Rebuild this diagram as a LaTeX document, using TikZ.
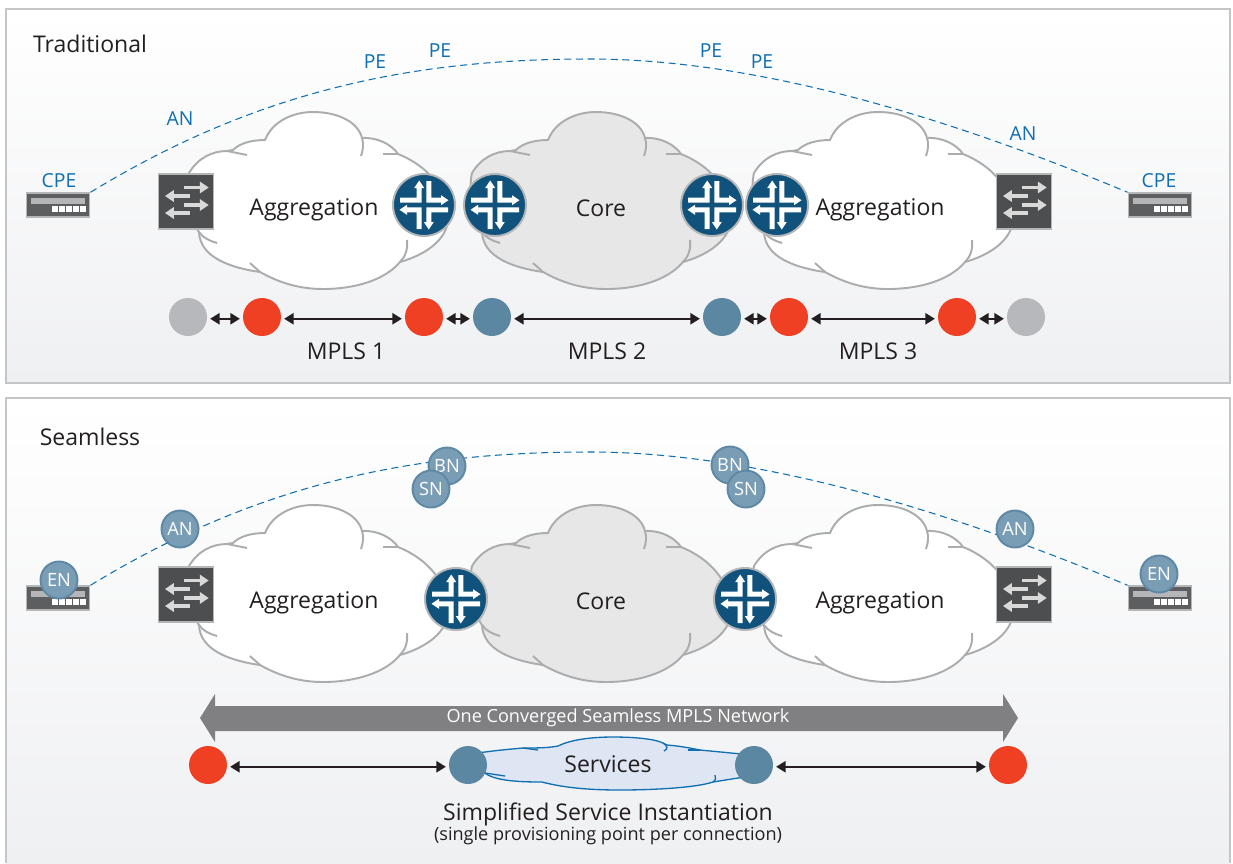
\documentclass[tikz,border=0pt]{standalone}
\usepackage{xcolor}
\usepackage{fontspec}
\setmainfont{Open Sans}
\usetikzlibrary{arrows.meta}
\definecolor{paneledge}{HTML}{C4C5C7}
\definecolor{panelbot}{HTML}{EFF0F2}
\definecolor{cloudedge}{HTML}{ABACAE}
\definecolor{coregray}{HTML}{E7E7E8}
\definecolor{routerblue}{HTML}{10527C}
\definecolor{labelblue}{HTML}{0F6FB0}
\definecolor{boxedge}{HTML}{B5B6B8}
\definecolor{switchgray}{HTML}{4D4E50}
\definecolor{cpegray}{HTML}{5D5E60}
\definecolor{dotgray}{HTML}{B7B8BB}
\definecolor{dotred}{HTML}{F04023}
\definecolor{dotblue}{HTML}{5B87A2}
\definecolor{tagfill}{HTML}{7A9DB6}
\definecolor{tagedge}{HTML}{5F88A4}
\definecolor{bandgray}{HTML}{808082}
\definecolor{servfill}{HTML}{DDE6F2}
\definecolor{inkdark}{HTML}{231F20}
\tikzset{
  bigtext/.style={text=inkdark,inner sep=0pt,font=\fontsize{13.1}{15}\selectfont},
  smalltext/.style={text=inkdark,inner sep=0pt,font=\fontsize{10.3}{12}\selectfont},
  bluetext/.style={text=labelblue,inner sep=0pt,font=\fontsize{11}{13}\selectfont},
  dot/.style={circle,inner sep=0pt,minimum size=0.76cm},
  tag/.style={circle,draw=tagedge,fill=tagfill,line width=1.1pt,inner sep=0pt,minimum size=0.74cm,text=white,font=\fontsize{10.4}{12}\selectfont},
  cpebox/.style={draw=boxedge,fill=cpegray,line width=1.1pt,inner sep=0pt,minimum width=1.26cm,minimum height=0.47cm},
  swbox/.style={draw=boxedge,fill=switchgray,line width=1.1pt,inner sep=0pt,minimum size=1.1cm},
  dashlink/.style={draw=labelblue,line width=0.6pt,dash pattern=on 4pt off 2.6pt},
  link/.style={{Stealth[length=5.4pt,width=6.4pt,inset=0pt]}-{Stealth[length=5.4pt,width=6.4pt,inset=0pt]},draw=inkdark,line width=1pt,shorten >=1.6pt,shorten <=1.6pt},
  cloudmark/.pic={
    \path[pic actions,draw=cloudedge,line width=1.1pt] (189,173) .. controls (198,158) and (212,151) .. (227,151)
      -- (233,150) .. controls (240,143) and (252,140) .. (265,140)
      .. controls (272,122) and (292,112) .. (313,112) .. controls (338,112) and (358,122) .. (362,138)
      .. controls (378,137) and (392,145) .. (398,154)
      .. controls (428,166) and (448,190) .. (448,218) .. controls (448,238) and (428,254) .. (400,262)
      .. controls (385,280) and (355,289) .. (323,289) .. controls (298,289) and (278,282) .. (260,272)
      .. controls (232,268) and (200,258) .. (199,232)
      .. controls (190,220) and (185,190) .. (189,173) -- cycle;
    \draw[cloudedge,line width=1.1pt] (227,151) -- (247,155);
    \draw[cloudedge,line width=1.1pt] (362,138) .. controls (364,144) and (363,150) .. (361,156);
    \draw[cloudedge,line width=1.1pt] (383,154) -- (398,154);
    \draw[cloudedge,line width=1.1pt] (407,240) .. controls (408,250) and (405,257) .. (400,262);
    \draw[cloudedge,line width=1.1pt] (250,263) -- (260,272);
    \draw[cloudedge,line width=1.1pt] (199,232) .. controls (203,238) and (210,241) .. (217,243);
  },
  routermark/.pic={
    \fill[routerblue] (0,0) circle (31);
    \draw[boxedge,line width=1.1pt] (0,0) circle (31);
    \foreach \a in {0,90,180,270}
      \fill[white,rotate=\a] (-24,-7.3) -- (-7.3,-7.3) -- (-7.3,-17) -- (-9.8,-17) -- (-4.8,-24.5) -- (0.2,-17) -- (-2.3,-17) -- (-2.3,-2.3) -- (-24,-2.3) -- cycle;
  },
  cpemark/.pic={
    \fill[boxedge] (-27,-7) rectangle (27,-1);
    \foreach \i in {0,...,4}
      \fill[white] (-6+7*\i,0.5) rectangle (0+7*\i,6.5);
  },
  swmark/.pic={
    \foreach \ya/\xa/\xb in {-14/-2/22.7,-5.5/4/-21,3.5/-2/22.7,11.5/4/-21}
      \draw[white!85!black,line width=2.2pt,-{Triangle[length=5pt,width=6.4pt]}] (\xa,\ya) -- (\xb,\ya);
  }
}
\begin{document}
\begin{tikzpicture}[x=0.02cm,y=-0.02cm]
  \useasboundingbox (0,0) rectangle (1233,863);
  \shade[top color=white,bottom color=panelbot] (6,9) rectangle (1230,383);
  \draw[paneledge,line width=1.1pt] (6,9) rectangle (1230,383);
  \shade[top color=white,bottom color=panelbot] (6,398) rectangle (1230,863);
  \draw[paneledge,line width=1.1pt] (6,863) -- (6,398) -- (1230,398) -- (1230,863);

  \node[bigtext] (trad) at (90,44) {Traditional};
  \node[bigtext] (seam) at (90,437) {Seamless};

  \pic[fill=white] at (0,0) {cloudmark};
  \pic[fill=coregray] at (283,0) {cloudmark};
  \pic[fill=white] at (565,0) {cloudmark};
  \pic[fill=white] at (0,393) {cloudmark};
  \pic[fill=coregray] at (283,393) {cloudmark};
  \pic[fill=white] at (565,393) {cloudmark};

  \node[cpebox] (cpe1) at (58,205) {};
  \node[cpebox] (cpe2) at (1160,205) {};
  \node[cpebox] (cpe3) at (58,598) {};
  \node[cpebox] (cpe4) at (1160,598) {};
  \foreach \n in {cpe1,cpe2,cpe3,cpe4}
    \pic at (\n) {cpemark};
  \node[swbox] (sw1) at (186,201.5) {};
  \node[swbox] (sw2) at (1024,201.5) {};
  \node[swbox] (sw3) at (186,594.5) {};
  \node[swbox] (sw4) at (1024,594.5) {};
  \foreach \n in {sw1,sw2,sw3,sw4}
    \pic at (\n) {swmark};

  \coordinate (apex1) at (590,59);
  \coordinate (apex2) at (590,452);
  \draw[dashlink] (cpe1.north east) .. controls (263,87) and (420,59) .. (apex1) .. controls (760,59) and (955,120) .. (cpe2.north west);
  \draw[dashlink] (cpe3.north east) .. controls (263,480) and (420,452) .. (apex2) .. controls (760,452) and (955,513) .. (cpe4.north west);

  \pic at (424,205) {routermark};
  \pic at (495,205) {routermark};
  \pic at (712,205) {routermark};
  \pic at (777,205) {routermark};
  \pic at (456,599) {routermark};
  \pic at (745,599) {routermark};

  \node[bigtext] (agg1) at (314,210) {Aggregation};
  \node[bigtext] (core1) at (601,208) {Core};
  \node[bigtext] (agg2) at (880,210) {Aggregation};
  \node[bigtext] (agg3) at (314,603) {Aggregation};
  \node[bigtext] (core2) at (601,601) {Core};
  \node[bigtext] (agg4) at (880,603) {Aggregation};

  \node[bluetext] (cpel) at (59,181) {CPE};
  \node[bluetext] (anl) at (180,119) {AN};
  \node[bluetext] (pe1) at (375,62) {PE};
  \node[bluetext] (pe2) at (440,51) {PE};
  \node[bluetext] (pe3) at (711,51) {PE};
  \node[bluetext] (pe4) at (762,62) {PE};
  \node[bluetext] (anr) at (1023,134) {AN};
  \node[bluetext] (cper) at (1159,181) {CPE};

  \node[dot,fill=dotgray] (g1) at (188,317) {};
  \node[dot,fill=dotred] (r1) at (262,317) {};
  \node[dot,fill=dotred] (r2) at (424,317) {};
  \node[dot,fill=dotblue] (b1) at (492,317) {};
  \node[dot,fill=dotblue] (b2) at (722,317) {};
  \node[dot,fill=dotred] (r3) at (789,317) {};
  \node[dot,fill=dotred] (r4) at (957,317) {};
  \node[dot,fill=dotgray] (g2) at (1026,317) {};
  \foreach \a/\b in {g1/r1,r1/r2,r2/b1,b1/b2,b2/r3,r3/r4,r4/g2}
    \draw[link] ([yshift=-1pt]\a.east) -- ([yshift=-1pt]\b.west);
  \node[bigtext] (mpls1) at (346,351) {MPLS 1};
  \node[bigtext] (mpls2) at (607,351) {MPLS 2};
  \node[bigtext] (mpls3) at (878,351) {MPLS 3};

  \node[tag] (en1) at (59,580) {EN};
  \node[tag] (an1) at (180,529) {AN};
  \node[tag] (bn1) at (447,466) {BN};
  \node[tag] (sn1) at (431,489) {SN};
  \node[tag] (bn2) at (730,465) {BN};
  \node[tag] (sn2) at (746,489) {SN};
  \node[tag] (an2) at (1015,529) {AN};
  \node[tag] (en2) at (1159,574) {EN};

  \fill[bandgray] (200,718) -- (215,694) -- (215,706) -- (1003,706) -- (1003,694) -- (1018,718) -- (1003,742) -- (1003,731) -- (215,731) -- (215,742) -- cycle;
  \node[text=white,inner sep=0pt,font=\fontsize{10.3}{12}\selectfont] (band) at (618,718) {One Converged Seamless MPLS Network};

  \draw[labelblue,fill=servfill,line width=0.75pt] (470,754) -- (485,752) .. controls (500,750) and (512,749) .. (523,748)
    .. controls (535,748) and (548,748) .. (558,746) .. controls (570,740) and (590,737) .. (613,737)
    .. controls (635,737) and (655,739) .. (663,743) -- (667,745) .. controls (680,746) and (690,748) .. (700,750)
    -- (752,755) -- (752,776) -- (738,778) -- (713,782) .. controls (695,788) and (650,790) .. (620,790)
    .. controls (590,790) and (565,788) .. (542,782) .. controls (520,782) and (495,781) .. (485,773) -- (470,774) -- cycle;
  \draw[labelblue,line width=0.75pt] (523,748) -- (538,750);
  \draw[labelblue,line width=0.75pt] (663,743) .. controls (668,746) and (668,749) .. (664,751);
  \draw[labelblue,line width=0.75pt] (700,750) -- (688,750);
  \draw[labelblue,line width=0.75pt] (485,773) -- (505,776);
  \draw[labelblue,line width=0.75pt] (713,782) .. controls (716,780) and (716,778) .. (715,775);
  \node[bigtext] (serv) at (608,764) {Services};

  \node[dot,fill=dotred] (r5) at (208,765) {};
  \node[dot,fill=dotblue] (b3) at (468,765) {};
  \node[dot,fill=dotblue] (b4) at (754,765) {};
  \node[dot,fill=dotred] (r6) at (1008,765) {};
  \draw[link] ([yshift=-1pt]r5.east) -- ([yshift=-1pt]b3.west);
  \draw[link] ([yshift=-1pt]b4.east) -- ([yshift=-1pt]r6.west);
  \node[bigtext] (simp) at (608,814) {Simplified Service Instantiation};
  \node[smalltext] (prov) at (608,836) {(single provisioning point per connection)};
\end{tikzpicture}
\end{document}
